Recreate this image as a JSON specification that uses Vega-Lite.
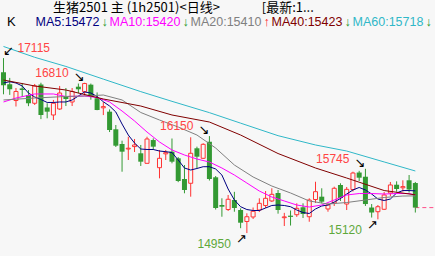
{
"$schema": "https://vega.github.io/schema/vega-lite/v6.json",
"width": 435, "height": 256, "autosize": "none", "padding": 0,
"background": "#f7f7f7",
"title": {"text": "生猪2501 主 (1h2501)<日线>　　　 [最新:1...", "anchor": "start", "frame": "group", "font": "Noto Sans CJK SC", "fontSize": 13, "fontWeight": "normal", "color": "#000000", "offset": -15, "dx": 53},
"datasets": {
"k": [
{"i":0,"o":16940,"c":16780,"h":17115,"l":16667},
{"i":1,"o":16790,"c":16730,"h":16870,"l":16660},
{"i":2,"o":16590,"c":16702,"h":16745,"l":16516},
{"i":3,"o":16740,"c":16720,"h":16807,"l":16634},
{"i":4,"o":16658,"c":16556,"h":16720,"l":16520},
{"i":5,"o":16556,"c":16770,"h":16795,"l":16535},
{"i":6,"o":16788,"c":16411,"h":16810,"l":16360},
{"i":7,"o":16504,"c":16452,"h":16556,"l":16370},
{"i":8,"o":16411,"c":16556,"h":16597,"l":16349},
{"i":9,"o":16485,"c":16683,"h":16770,"l":16473},
{"i":10,"o":16646,"c":16609,"h":16745,"l":16522},
{"i":11,"o":16572,"c":16702,"h":16745,"l":16522},
{"i":12,"o":16761,"c":16729,"h":16800,"l":16680},
{"i":13,"o":16700,"c":16800,"h":16810,"l":16650},
{"i":14,"o":16786,"c":16637,"h":16800,"l":16600},
{"i":15,"o":16618,"c":16473,"h":16690,"l":16470},
{"i":16,"o":16500,"c":16515,"h":16570,"l":16410},
{"i":17,"o":16452,"c":16225,"h":16480,"l":16200},
{"i":18,"o":16234,"c":16031,"h":16287,"l":16015},
{"i":19,"o":16052,"c":15957,"h":16093,"l":15709},
{"i":20,"o":15990,"c":16000,"h":16142,"l":15854},
{"i":21,"o":16020,"c":16040,"h":16114,"l":15953},
{"i":22,"o":15937,"c":15833,"h":16040,"l":15780},
{"i":23,"o":15813,"c":16114,"h":16142,"l":15810},
{"i":24,"o":16101,"c":16019,"h":16122,"l":15978},
{"i":25,"o":15759,"c":15875,"h":15978,"l":15627},
{"i":26,"o":15930,"c":15945,"h":15978,"l":15854},
{"i":27,"o":15957,"c":15833,"h":16120,"l":15813},
{"i":28,"o":15875,"c":15594,"h":15890,"l":15580},
{"i":29,"o":15619,"c":15483,"h":15792,"l":15442},
{"i":30,"o":15566,"c":15937,"h":16135,"l":15400},
{"i":31,"o":15999,"c":15895,"h":16019,"l":15751},
{"i":32,"o":15875,"c":16048,"h":16061,"l":15866},
{"i":33,"o":16080,"c":15619,"h":16150,"l":15600},
{"i":34,"o":15640,"c":15260,"h":15656,"l":15241},
{"i":35,"o":15297,"c":15276,"h":15380,"l":15152},
{"i":36,"o":15241,"c":15368,"h":15421,"l":15223},
{"i":37,"o":15359,"c":15260,"h":15460,"l":15214},
{"i":38,"o":15235,"c":15078,"h":15256,"l":15010},
{"i":39,"o":15093,"c":15152,"h":15194,"l":14950},
{"i":40,"o":15149,"c":15219,"h":15266,"l":15124},
{"i":41,"o":15235,"c":15318,"h":15380,"l":15210},
{"i":42,"o":15291,"c":15380,"h":15470,"l":15260},
{"i":43,"o":15347,"c":15429,"h":15504,"l":15334},
{"i":44,"o":15446,"c":15235,"h":15483,"l":15190},
{"i":45,"o":15140,"c":15150,"h":15200,"l":15037},
{"i":46,"o":15165,"c":15150,"h":15229,"l":15043},
{"i":47,"o":15177,"c":15256,"h":15318,"l":15150},
{"i":48,"o":15269,"c":15186,"h":15318,"l":15136},
{"i":49,"o":15152,"c":15359,"h":15380,"l":15090},
{"i":50,"o":15365,"c":15462,"h":15585,"l":15322},
{"i":51,"o":15400,"c":15338,"h":15504,"l":15318},
{"i":52,"o":15248,"c":15297,"h":15318,"l":15214},
{"i":53,"o":15322,"c":15504,"h":15524,"l":15285},
{"i":54,"o":15545,"c":15384,"h":15566,"l":15347},
{"i":55,"o":15309,"c":15491,"h":15520,"l":15235},
{"i":56,"o":15489,"c":15693,"h":15709,"l":15464},
{"i":57,"o":15699,"c":15635,"h":15720,"l":15594},
{"i":58,"o":15647,"c":15309,"h":15745,"l":15285},
{"i":59,"o":15266,"c":15204,"h":15309,"l":15142},
{"i":60,"o":15214,"c":15276,"h":15297,"l":15120},
{"i":61,"o":15244,"c":15421,"h":15458,"l":15235},
{"i":62,"o":15446,"c":15545,"h":15582,"l":15408},
{"i":63,"o":15548,"c":15495,"h":15590,"l":15462},
{"i":64,"o":15510,"c":15525,"h":15603,"l":15462},
{"i":65,"o":15603,"c":15489,"h":15668,"l":15452},
{"i":66,"o":15569,"c":15265,"h":15582,"l":15204}
],
"ma": [
{"i":0,"s":"MA5","v":16807},{"i":1,"s":"MA5","v":16823},{"i":2,"s":"MA5","v":16807},{"i":3,"s":"MA5","v":16770},{"i":4,"s":"MA5","v":16683},{"i":5,"s":"MA5","v":16634},{"i":6,"s":"MA5","v":16603},{"i":7,"s":"MA5","v":16566},{"i":8,"s":"MA5","v":16566},{"i":9,"s":"MA5","v":16572},{"i":10,"s":"MA5","v":16572},{"i":11,"s":"MA5","v":16597},{"i":12,"s":"MA5","v":16646},{"i":13,"s":"MA5","v":16696},{"i":14,"s":"MA5","v":16683},{"i":15,"s":"MA5","v":16640},{"i":16,"s":"MA5","v":16575},{"i":17,"s":"MA5","v":16522},{"i":18,"s":"MA5","v":16448},{"i":19,"s":"MA5","v":16299},{"i":20,"s":"MA5","v":16163},{"i":21,"s":"MA5","v":16064},{"i":22,"s":"MA5","v":15990},{"i":23,"s":"MA5","v":15984},{"i":24,"s":"MA5","v":15984},{"i":25,"s":"MA5","v":15965},{"i":26,"s":"MA5","v":15957},{"i":27,"s":"MA5","v":15947},{"i":28,"s":"MA5","v":15854},{"i":29,"s":"MA5","v":15755},{"i":30,"s":"MA5","v":15730},{"i":31,"s":"MA5","v":15749},{"i":32,"s":"MA5","v":15771},{"i":33,"s":"MA5","v":15771},{"i":34,"s":"MA5","v":15743},{"i":35,"s":"MA5","v":15668},{"i":36,"s":"MA5","v":15495},{"i":37,"s":"MA5","v":15359},{"i":38,"s":"MA5","v":15276},{"i":39,"s":"MA5","v":15241},{"i":40,"s":"MA5","v":15229},{"i":41,"s":"MA5","v":15229},{"i":42,"s":"MA5","v":15260},{"i":43,"s":"MA5","v":15291},{"i":44,"s":"MA5","v":15297},{"i":45,"s":"MA5","v":15291},{"i":46,"s":"MA5","v":15276},{"i":47,"s":"MA5","v":15235},{"i":48,"s":"MA5","v":15204},{"i":49,"s":"MA5","v":15192},{"i":50,"s":"MA5","v":15248},{"i":51,"s":"MA5","v":15285},{"i":52,"s":"MA5","v":15297},{"i":53,"s":"MA5","v":15334},{"i":54,"s":"MA5","v":15377},{"i":55,"s":"MA5","v":15433},{"i":56,"s":"MA5","v":15483},{"i":57,"s":"MA5","v":15514},{"i":58,"s":"MA5","v":15483},{"i":59,"s":"MA5","v":15433},{"i":60,"s":"MA5","v":15371},{"i":61,"s":"MA5","v":15353},{"i":62,"s":"MA5","v":15371},{"i":63,"s":"MA5","v":15446},{"i":64,"s":"MA5","v":15476},{"i":65,"s":"MA5","v":15476},{"i":66,"s":"MA5","v":15472},
{"i":0,"s":"MA10","v":16572},{"i":2,"s":"MA10","v":16621},{"i":5,"s":"MA10","v":16671},{"i":8,"s":"MA10","v":16671},{"i":10,"s":"MA10","v":16640},{"i":13,"s":"MA10","v":16646},{"i":15,"s":"MA10","v":16627},{"i":17,"s":"MA10","v":16572},{"i":19,"s":"MA10","v":16460},{"i":21,"s":"MA10","v":16337},{"i":23,"s":"MA10","v":16200},{"i":25,"s":"MA10","v":16077},{"i":27,"s":"MA10","v":15978},{"i":29,"s":"MA10","v":15916},{"i":31,"s":"MA10","v":15866},{"i":33,"s":"MA10","v":15829},{"i":35,"s":"MA10","v":15755},{"i":37,"s":"MA10","v":15668},{"i":39,"s":"MA10","v":15569},{"i":41,"s":"MA10","v":15470},{"i":43,"s":"MA10","v":15396},{"i":45,"s":"MA10","v":15347},{"i":47,"s":"MA10","v":15297},{"i":49,"s":"MA10","v":15272},{"i":51,"s":"MA10","v":15297},{"i":53,"s":"MA10","v":15359},{"i":55,"s":"MA10","v":15421},{"i":57,"s":"MA10","v":15439},{"i":59,"s":"MA10","v":15439},{"i":61,"s":"MA10","v":15433},{"i":63,"s":"MA10","v":15439},{"i":65,"s":"MA10","v":15439},{"i":66,"s":"MA10","v":15420},
{"i":0,"s":"MA20","v":16597},{"i":5,"s":"MA20","v":16621},{"i":10,"s":"MA20","v":16640},{"i":13,"s":"MA20","v":16646},{"i":16,"s":"MA20","v":16658},{"i":19,"s":"MA20","v":16597},{"i":22,"s":"MA20","v":16442},{"i":25,"s":"MA20","v":16349},{"i":28,"s":"MA20","v":16262},{"i":31,"s":"MA20","v":16163},{"i":34,"s":"MA20","v":16002},{"i":37,"s":"MA20","v":15792},{"i":40,"s":"MA20","v":15644},{"i":43,"s":"MA20","v":15532},{"i":46,"s":"MA20","v":15446},{"i":49,"s":"MA20","v":15347},{"i":52,"s":"MA20","v":15309},{"i":55,"s":"MA20","v":15328},{"i":58,"s":"MA20","v":15359},{"i":61,"s":"MA20","v":15390},{"i":64,"s":"MA20","v":15408},{"i":66,"s":"MA20","v":15410},
{"i":0,"s":"MA40","v":16844},{"i":5,"s":"MA40","v":16770},{"i":10,"s":"MA40","v":16720},{"i":16,"s":"MA40","v":16609},{"i":22,"s":"MA40","v":16522},{"i":27,"s":"MA40","v":16411},{"i":33,"s":"MA40","v":16324},{"i":38,"s":"MA40","v":16163},{"i":44,"s":"MA40","v":15934},{"i":50,"s":"MA40","v":15755},{"i":55,"s":"MA40","v":15631},{"i":61,"s":"MA40","v":15476},{"i":66,"s":"MA40","v":15423},
{"i":0,"s":"MA60","v":17259},{"i":5,"s":"MA60","v":17125},{"i":10,"s":"MA60","v":17012},{"i":16,"s":"MA60","v":16855},{"i":22,"s":"MA60","v":16700},{"i":27,"s":"MA60","v":16580},{"i":33,"s":"MA60","v":16440},{"i":38,"s":"MA60","v":16310},{"i":44,"s":"MA60","v":16155},{"i":50,"s":"MA60","v":16040},{"i":55,"s":"MA60","v":15965},{"i":61,"s":"MA60","v":15830},{"i":66,"s":"MA60","v":15718}
],
"ann": [
{"i":0,"p":17115,"t":"17115","k":"first"},
{"i":13,"p":16810,"t":"16810","k":"hi"},
{"i":33,"p":16150,"t":"16150","k":"hi"},
{"i":58,"p":15745,"t":"15745","k":"hi"},
{"i":39,"p":14950,"t":"14950","k":"lo"},
{"i":60,"p":15120,"t":"15120","k":"lo"}
],
"last": [{"i":66,"p":15265}]
},
"encoding": {"x": {"field": "i", "type": "quantitative", "scale": {"domain": [-0.56, 69.15], "nice": false, "zero": false, "padding": 0}, "axis": null}},
"layer": [
{"data": {"name": "k"}, "mark": {"type": "rule", "strokeWidth": 1},
 "encoding": {
  "y": {"field": "l", "type": "quantitative", "scale": {"domain": [14666, 17834], "nice": false, "zero": false, "padding": 0},
        "axis": {"grid": true, "values": [15000, 15500, 16000, 16500, 17000], "labels": false, "ticks": false, "domain": false, "title": null, "gridDash": [1, 3], "gridColor": "#b4b4b4", "gridWidth": 1}},
  "y2": {"field": "h"},
  "color": {"condition": {"test": "datum.c >= datum.o", "value": "#ff3333"}, "value": "#339933"}}},
{"data": {"name": "last"}, "mark": {"type": "rule", "strokeDash": [4, 3], "color": "#ff4d88", "strokeWidth": 1},
 "encoding": {"y": {"field": "p", "type": "quantitative", "axis": null}, "x2": {"datum": 69.7}}},
{"data": {"name": "k"}, "transform": [{"filter": "datum.c >= datum.o"}],
 "mark": {"type": "bar", "size": 4, "fill": "#f7f7f7", "stroke": "#ff3333", "strokeWidth": 1},
 "encoding": {"y": {"field": "o", "type": "quantitative", "axis": null}, "y2": {"field": "c"}}},
{"data": {"name": "k"}, "transform": [{"filter": "datum.c < datum.o"}],
 "mark": {"type": "bar", "size": 5, "color": "#339933"},
 "encoding": {"y": {"field": "o", "type": "quantitative", "axis": null}, "y2": {"field": "c"}}},
{"data": {"name": "ma"}, "mark": {"type": "line", "strokeWidth": 1},
 "encoding": {
  "y": {"field": "v", "type": "quantitative", "axis": null},
  "color": {"field": "s", "type": "nominal",
   "scale": {"domain": ["MA5", "d5", "MA10", "d10", "MA20", "u20", "MA40", "d40", "MA60", "d60"],
             "range": ["#000080", "#2e9a2e", "#ff00ff", "#2e9a2e", "#808080", "#ff2020", "#800000", "#2e9a2e", "#30b8c8", "#2e9a2e"]},
   "legend": {"orient": "none", "legendX": 7, "legendY": 16, "direction": "horizontal", "title": "K", "titleOrient": "left",
     "titleFont": "Liberation Sans", "titleFontSize": 13, "titleFontWeight": "normal", "titleColor": "#000000", "titlePadding": 7,
     "labelFont": "Liberation Sans", "labelFontSize": 12.5, "gridAlign": "none",
     "labelExpr": "datum.value=='MA5'?'MA5:15472':datum.value=='MA10'?'MA10:15420':datum.value=='MA20'?'MA20:15410':datum.value=='MA40'?'MA40:15423':datum.value=='MA60'?'MA60:15718':datum.value=='u20'?'↑':'↓'",
     "labelColor": {"expr": "scale('color', datum.value)"},
     "symbolType": "circle", "symbolSize": 0.01, "symbolStrokeWidth": 0, "symbolOpacity": 0, "labelOffset": 0, "columnPadding": -11, "padding": 0}}}},
{"data": {"name": "ann"}, "transform": [{"filter": "datum.k == 'first'"}],
 "mark": {"type": "text", "align": "left", "baseline": "middle", "dx": 14, "dy": -10, "fontSize": 12, "font": "Liberation Sans", "color": "#ff4444"},
 "encoding": {"y": {"field": "p", "type": "quantitative", "axis": null}, "text": {"field": "t"}}},
{"data": {"name": "ann"}, "transform": [{"filter": "datum.k == 'hi'"}],
 "mark": {"type": "text", "align": "right", "baseline": "middle", "dx": -16, "dy": -10, "fontSize": 12, "font": "Liberation Sans", "color": "#ff4444"},
 "encoding": {"y": {"field": "p", "type": "quantitative", "axis": null}, "text": {"field": "t"}}},
{"data": {"name": "ann"}, "transform": [{"filter": "datum.k == 'lo'"}],
 "mark": {"type": "text", "align": "right", "baseline": "middle", "dx": -16, "dy": 11, "fontSize": 12, "font": "Liberation Sans", "color": "#5ea83a"},
 "encoding": {"y": {"field": "p", "type": "quantitative", "axis": null}, "text": {"field": "t"}}},
{"data": {"name": "ann"}, "transform": [{"filter": "datum.k == 'first'"}],
 "mark": {"type": "text", "align": "center", "baseline": "middle", "dx": 5, "dy": -7, "fontSize": 13, "font": "DejaVu Sans", "color": "#000000", "text": "↙"},
 "encoding": {"y": {"field": "p", "type": "quantitative", "axis": null}}},
{"data": {"name": "ann"}, "transform": [{"filter": "datum.k == 'hi'"}],
 "mark": {"type": "text", "align": "center", "baseline": "middle", "dx": -5.5, "dy": -6, "fontSize": 13, "font": "DejaVu Sans", "color": "#000000", "text": "↘"},
 "encoding": {"y": {"field": "p", "type": "quantitative", "axis": null}}},
{"data": {"name": "ann"}, "transform": [{"filter": "datum.k == 'lo'"}],
 "mark": {"type": "text", "align": "center", "baseline": "middle", "dx": -5.5, "dy": 6, "fontSize": 13, "font": "DejaVu Sans", "color": "#000000", "text": "↗"},
 "encoding": {"y": {"field": "p", "type": "quantitative", "axis": null}}}
],
"config": {"view": {"stroke": null}, "font": "Liberation Sans"}
}
